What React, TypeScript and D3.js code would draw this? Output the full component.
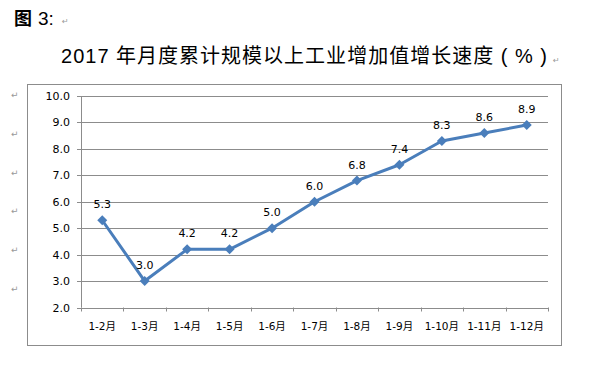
import * as d3 from "d3";

const categories = ["1-2月", "1-3月", "1-4月", "1-5月", "1-6月", "1-7月", "1-8月", "1-9月", "1-10月", "1-11月", "1-12月"];
const growth = [5.3, 3.0, 4.2, 4.2, 5.0, 6.0, 6.8, 7.4, 8.3, 8.6, 8.9];
const yTicks = [2, 3, 4, 5, 6, 7, 8, 9, 10];
const returnMarkRows = [98, 137, 176, 214, 253, 292];

const W = 614;
const H = 368;
const plot = { left: 81, right: 548, top: 96, bottom: 307.5 };
const FONT = "Verdana, 'DejaVu Sans', 'Noto Sans CJK SC', sans-serif";
const TITLE_FONT = "Arial, 'Liberation Sans', 'Noto Sans CJK SC', sans-serif";
const LINE = "#4a7ebb";

export default function App() {
  const x = d3.scaleBand<string>().domain(categories).range([plot.left, plot.right]);
  const y = d3.scaleLinear().domain([2, 10]).range([plot.bottom, plot.top]);
  const cx = (c: string) => (x(c) ?? 0) + x.bandwidth() / 2;

  const line = d3
    .line<number>()
    .x((_, i) => cx(categories[i]))
    .y((d) => y(d));

  // square diamond marker, ~10px across
  const diamond = "M0,-5L5,0L0,5L-5,0Z";
  const xEdges = [...categories.map((c) => x(c) ?? 0), plot.right];

  return (
    <svg
      width={W}
      height={H}
      style={{ position: "absolute", left: 0, top: 0, background: "#fff" }}
    >
      <text x={14} y={25} fontSize={18} fontWeight="bold" fontFamily="'Noto Sans CJK SC', sans-serif" fill="#000">
        图
      </text>
      <text x={38} y={25} fontSize={19} fontFamily={TITLE_FONT} fill="#000">
        3:
      </text>
      <text x={62} y={24} fontSize={8} fill="#999" fontFamily={FONT}>↵</text>

      <text
        x={61}
        y={63}
        fontSize={20}
        fontFamily={TITLE_FONT}
        fill="#000"
        textLength={486}
        lengthAdjust="spacing"
      >
        2017 年月度累计规模以上工业增加值增长速度 ( % )
      </text>
      <text x={553} y={63} fontSize={8} fill="#999" fontFamily={FONT}>↵</text>

      {returnMarkRows.map((r) => (
        <text key={r} x={11} y={r} fontSize={9} fill="#999" fontFamily={FONT}>↵</text>
      ))}

      {/* chart frame */}
      <rect x={27.5} y={84.5} width={534} height={261} fill="#fff" stroke="#8c8c8c" strokeWidth={1} />

      {/* grid */}
      {yTicks.map((t) => (
        <g key={t}>
          <line
            x1={plot.left - 4}
            x2={plot.right}
            y1={Math.round(y(t)) + 0.5}
            y2={Math.round(y(t)) + 0.5}
            stroke="#8c8c8c"
            strokeWidth={1}
          />
          <text
            x={70}
            y={y(t) + 4}
            textAnchor="end"
            fontSize={11}
            fontFamily={FONT}
            fill="#000"
          >
            {t.toFixed(1)}
          </text>
        </g>
      ))}

      {/* axes */}
      <line x1={plot.left + 0.5} x2={plot.left + 0.5} y1={plot.top} y2={plot.bottom} stroke="#8c8c8c" />
      {xEdges.map((e, i) => (
        <line key={i} x1={Math.round(e) + 0.5} x2={Math.round(e) + 0.5} y1={plot.bottom} y2={plot.bottom + 4} stroke="#8c8c8c" />
      ))}
      {categories.map((c) => (
        <text
          key={c}
          x={cx(c)}
          y={330}
          textAnchor="middle"
          fontSize={10.5}
          fontFamily={FONT}
          fill="#000"
        >
          {c}
        </text>
      ))}

      {/* series */}
      <path d={line(growth) ?? ""} fill="none" stroke={LINE} strokeWidth={3} strokeLinejoin="round" />
      {growth.map((v, i) => (
        <g key={i}>
          <path d={diamond} transform={`translate(${cx(categories[i])},${y(v)})`} fill={LINE} />
          <text
            x={cx(categories[i])}
            y={y(v) - 12}
            textAnchor="middle"
            fontSize={11}
            fontFamily={FONT}
            fill="#000"
          >
            {v.toFixed(1)}
          </text>
        </g>
      ))}
    </svg>
  );
}
